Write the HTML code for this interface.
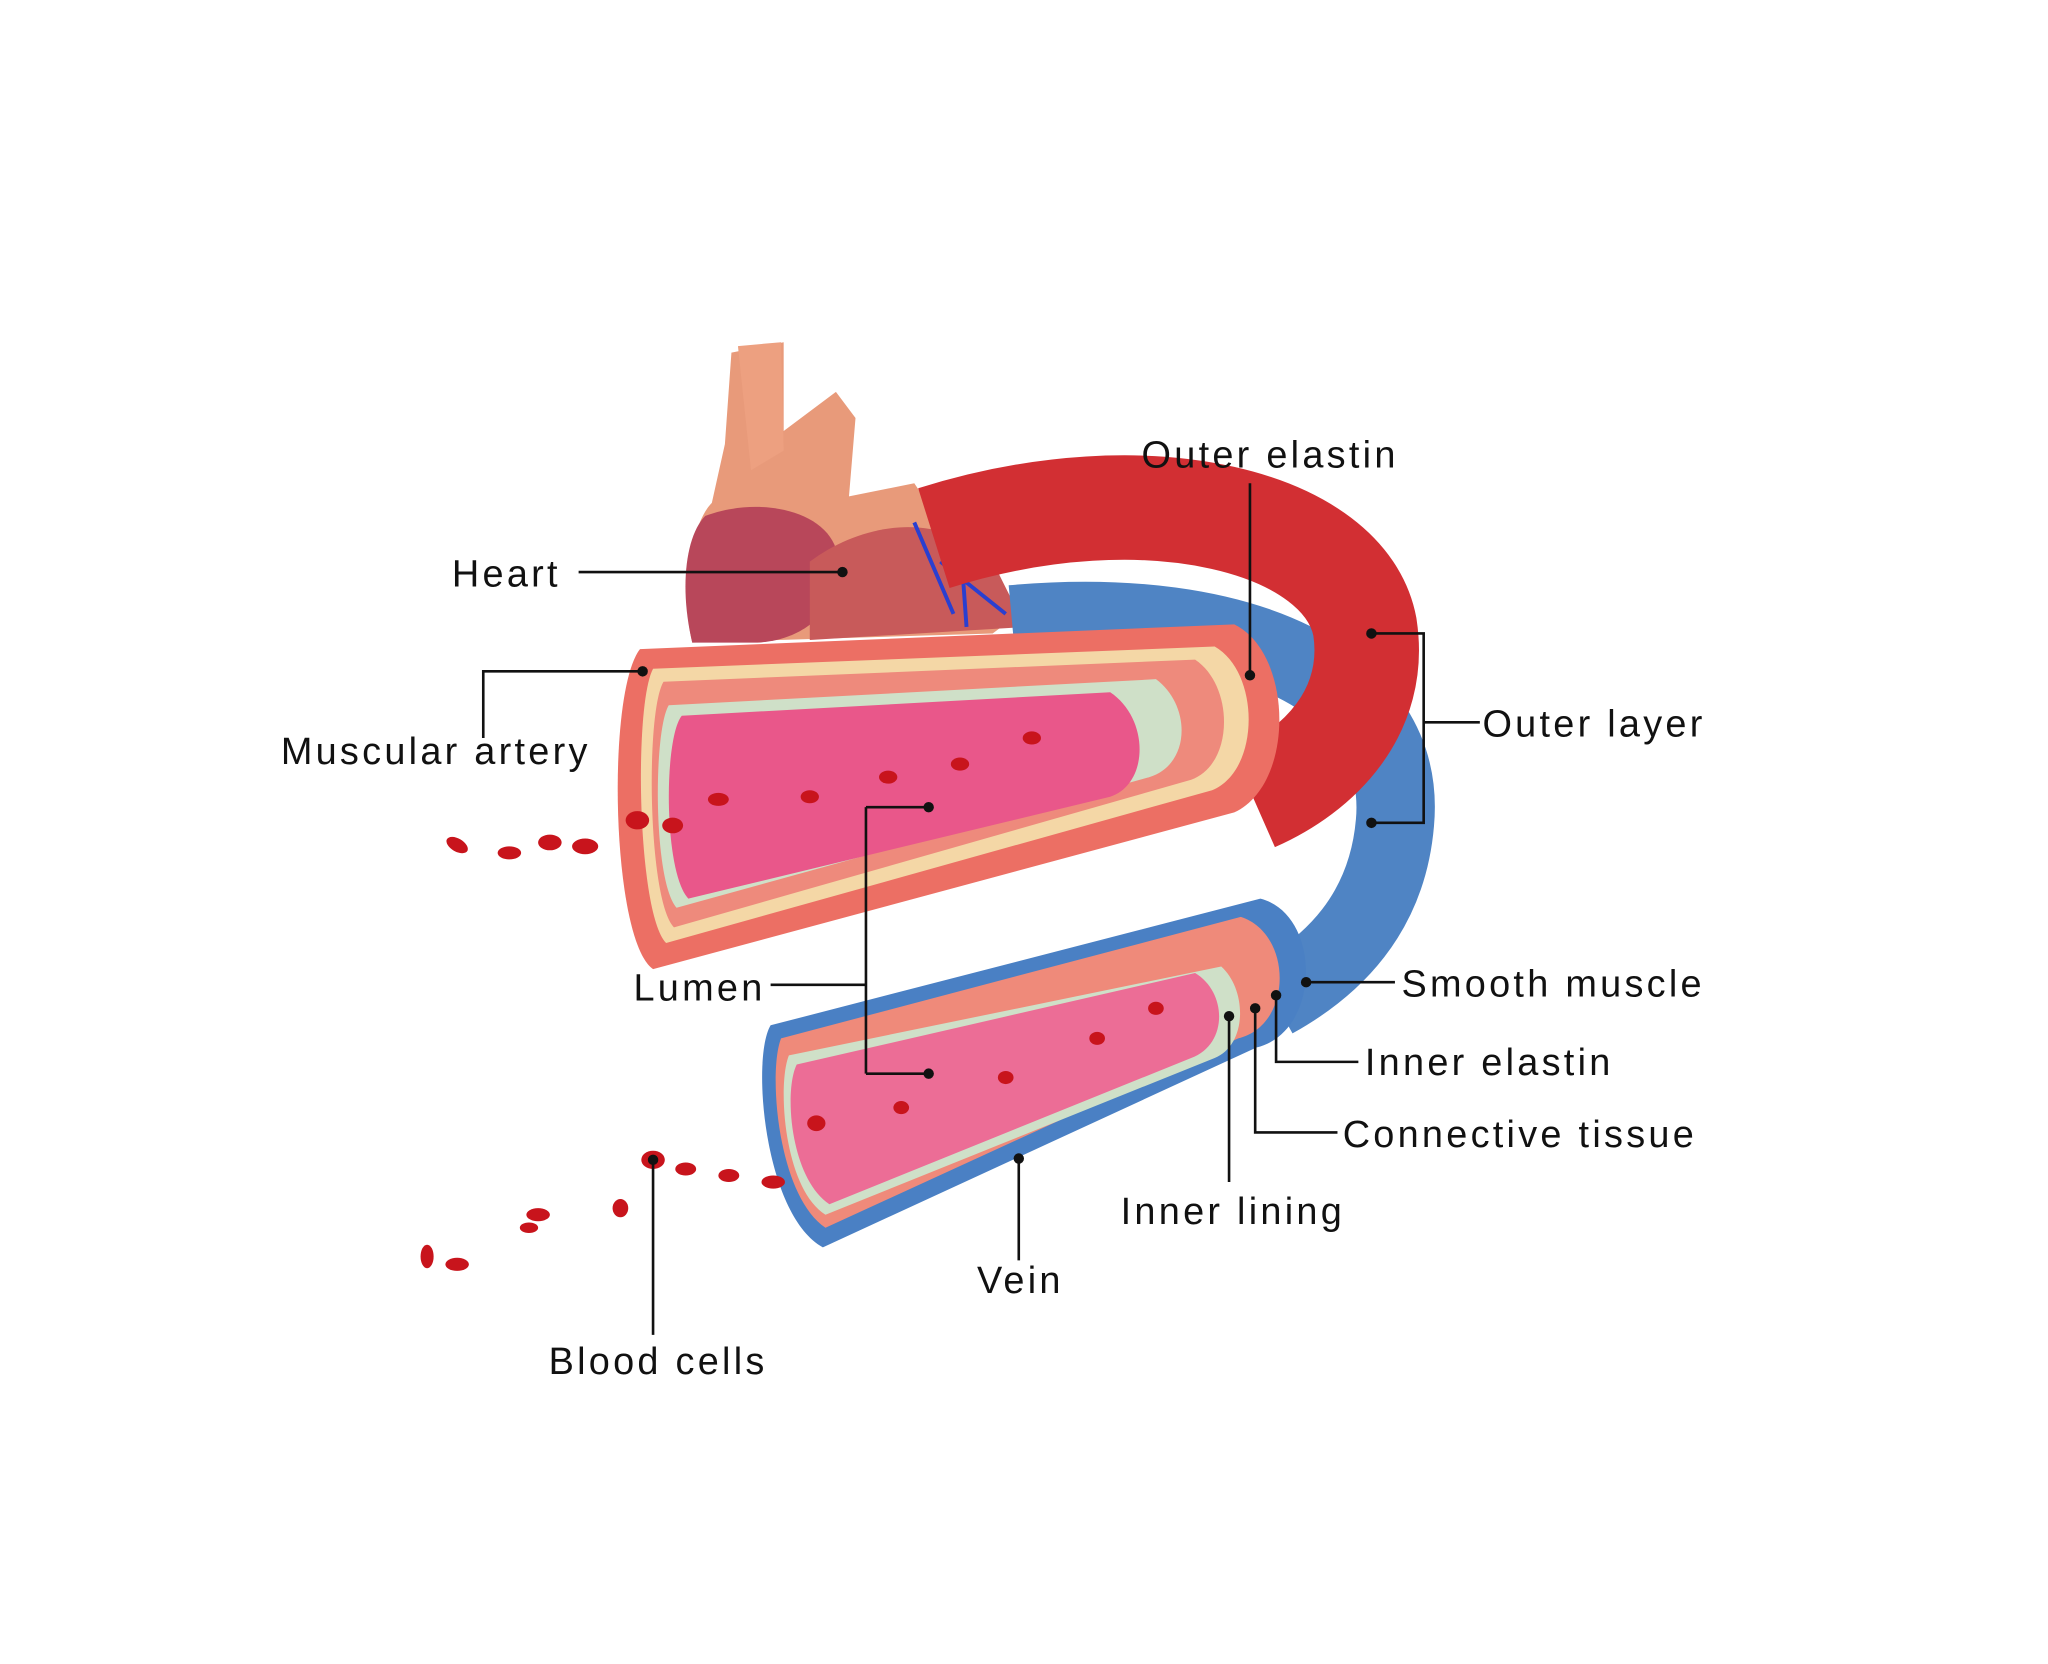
<!DOCTYPE html>
<html><head><meta charset="utf-8"><style>
html,body{margin:0;padding:0;background:#fff;}
svg{display:block;}
text{font-family:"Liberation Sans","DejaVu Sans",sans-serif;font-size:29px;fill:#111;letter-spacing:2.5px;}
</style></head><body>
<svg width="2048" height="1664" viewBox="0 0 1568 1274" preserveAspectRatio="none" xmlns="http://www.w3.org/2000/svg">
<rect width="1568" height="1274" fill="#fff"/>
<!-- heart -->
<path d="M560 270 L600 262 L600 330 L640 300 L655 320 L650 380 L700 370 L720 400 L750 410 L780 470 L760 485 L530 492 C520 450 530 400 545 385 L555 340 Z" fill="#e89a7a"/>
<path d="M565 265 L598 262 L600 345 L575 360 Z" fill="#eda080"/>
<path d="M540 395 C580 380 630 390 640 420 C650 460 620 490 580 492 L530 492 C520 450 525 410 540 395 Z" fill="#b8475a"/>
<path d="M620 430 C660 400 720 390 760 430 L785 480 L620 490 Z" fill="#c85a5a"/>
<path d="M700 400 L730 470 M720 430 L770 470 M735 410 L740 480" stroke="#2a3fd0" stroke-width="3" fill="none"/>
<!-- vein back -->
<path d="M775 478 C950 462 1078 520 1068 630 C1062 700 1020 740 975 765" stroke="#4f84c4" stroke-width="60" fill="none"/>
<!-- artery back -->
<path d="M715 412 C880 360 1030 400 1045 480 C1055 545 1010 590 960 612" stroke="#d22f33" stroke-width="80" fill="none"/>
<!-- artery front -->
<path d="M490 497 L945 478 C990 500 992 600 945 622 L500 742 C468 720 464 530 490 497 Z" fill="#ec6f64"/>
<path d="M500 512 L930 495 C965 515 965 590 928 605 L510 722 C488 700 485 540 500 512 Z" fill="#f4d7a6"/>
<path d="M508 522 L915 505 C945 525 945 585 912 597 L516 710 C496 690 494 545 508 522 Z" fill="#ee8a7c"/>
<path d="M512 540 L885 520 C912 540 912 585 880 595 L518 695 C500 675 500 560 512 540 Z" fill="#cfe0c8"/>
<path d="M522 548 L850 530 C880 550 880 600 850 610 L527 688 C508 668 508 565 522 548 Z" fill="#e9578a"/>
<!-- vein front -->
<path d="M590 785 L965 688 C1012 700 1012 790 962 802 L630 955 C585 930 575 810 590 785 Z" fill="#4a80c4"/>
<path d="M598 795 L950 702 C990 715 990 785 948 795 L632 940 C595 915 588 820 598 795 Z" fill="#ef8a7a"/>
<path d="M604 808 L935 740 C955 758 955 800 930 810 L632 930 C600 910 595 830 604 808 Z" fill="#cfe0c8"/>
<path d="M610 815 L915 745 C940 760 940 800 912 810 L635 922 C605 902 600 835 610 815 Z" fill="#ec6d96"/>
<!-- blood cells -->
<g fill="#c8141c">
<ellipse cx="350" cy="647" rx="9" ry="5" transform="rotate(30 350 647)"/>
<ellipse cx="390" cy="653" rx="9" ry="5"/>
<ellipse cx="421" cy="645" rx="9" ry="6"/>
<ellipse cx="448" cy="648" rx="10" ry="6"/>
<ellipse cx="488" cy="628" rx="9" ry="7"/>
<ellipse cx="515" cy="632" rx="8" ry="6"/>
<ellipse cx="550" cy="612" rx="8" ry="5"/>
<ellipse cx="620" cy="610" rx="7" ry="5"/>
<ellipse cx="680" cy="595" rx="7" ry="5"/>
<ellipse cx="735" cy="585" rx="7" ry="5"/>
<ellipse cx="790" cy="565" rx="7" ry="5"/>
<ellipse cx="500" cy="888" rx="9" ry="7"/>
<ellipse cx="525" cy="895" rx="8" ry="5"/>
<ellipse cx="558" cy="900" rx="8" ry="5"/>
<ellipse cx="592" cy="905" rx="9" ry="5"/>
<ellipse cx="475" cy="925" rx="6" ry="7"/>
<ellipse cx="412" cy="930" rx="9" ry="5"/>
<ellipse cx="405" cy="940" rx="7" ry="4"/>
<ellipse cx="327" cy="962" rx="5" ry="9"/>
<ellipse cx="350" cy="968" rx="9" ry="5"/>
<ellipse cx="625" cy="860" rx="7" ry="6"/>
<ellipse cx="690" cy="848" rx="6" ry="5"/>
<ellipse cx="770" cy="825" rx="6" ry="5"/>
<ellipse cx="840" cy="795" rx="6" ry="5"/>
<ellipse cx="885" cy="772" rx="6" ry="5"/>
</g>
<!-- leaders -->
<g stroke="#111" stroke-width="2" fill="none">
<path d="M957 370 V517"/>
<path d="M443 438 H645"/>
<path d="M370 565 V514 H492"/>
<path d="M1050 485 H1090 V630 H1050 M1090 553 H1133"/>
<path d="M590 754 H663 M663 618 V822 M663 618 H711 M663 822 H711"/>
<path d="M1000 752 H1068"/>
<path d="M977 762 V813 H1040"/>
<path d="M961 772 V867 H1024"/>
<path d="M941 778 V905"/>
<path d="M780 887 V965"/>
<path d="M500 888 V1022"/>
</g>
<g fill="#111">
<circle cx="957" cy="517" r="4"/><circle cx="645" cy="438" r="4"/><circle cx="492" cy="514" r="4"/>
<circle cx="1050" cy="485" r="4"/><circle cx="1050" cy="630" r="4"/><circle cx="711" cy="618" r="4"/>
<circle cx="711" cy="822" r="4"/><circle cx="1000" cy="752" r="4"/><circle cx="977" cy="762" r="4"/>
<circle cx="961" cy="772" r="4"/><circle cx="941" cy="778" r="4"/><circle cx="780" cy="887" r="4"/>
<circle cx="500" cy="888" r="4"/>
</g>
<text x="874" y="358">Outer elastin</text>
<text x="346" y="449">Heart</text>
<text x="215" y="585">Muscular artery</text>
<text x="1135" y="564">Outer layer</text>
<text x="485" y="766">Lumen</text>
<text x="1073" y="763">Smooth muscle</text>
<text x="1045" y="823">Inner elastin</text>
<text x="1028" y="878">Connective tissue</text>
<text x="858" y="937">Inner lining</text>
<text x="748" y="990">Vein</text>
<text x="420" y="1052">Blood cells</text>
</svg>
</body></html>
